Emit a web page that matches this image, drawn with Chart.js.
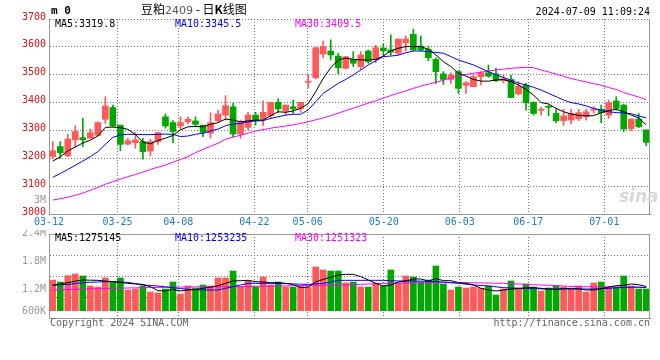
<!DOCTYPE html>
<html>
<head>
<meta charset="utf-8">
<script src="https://cdn.jsdelivr.net/npm/chart.js@4.4.1/dist/chart.umd.min.js"></script>
<style>
  body { margin: 0; background: #fff; }
  #wrap { position: relative; width: 660px; height: 360px; overflow: hidden; font-family: "DejaVu Sans Mono", monospace; font-size: 10px; }
  canvas { position: absolute; left: 0; }
  #main { top: 0; }
  #vol { top: 230px; }
  .t { position: absolute; white-space: pre; line-height: 1; }
</style>
</head>
<body>
<div id="wrap">
  <canvas id="main" width="660" height="230"></canvas>
  <canvas id="vol" width="660" height="100"></canvas>

  <div class="t" style="left:51px;top:5px;font-size:11px;font-weight:bold;">m 0</div>
  <div class="t" style="left:141px;top:3px;font-family:'Noto Sans CJK SC',sans-serif;font-size:12px;">豆粕<span style="font-family:'DejaVu Sans',sans-serif;font-size:11px;color:#555;">2409</span> - 日<b>K</b>线图</div>
  <div class="t" style="right:10px;top:7px;">2024-07-09 11:09:24</div>

  <div class="t" style="left:55px;top:19px;color:#000;">MA5:3319.8</div>
  <div class="t" style="left:175px;top:19px;color:#0000ff;">MA10:3345.5</div>
  <div class="t" style="left:295px;top:19px;color:#ff00ff;">MA30:3409.5</div>

  <div class="t" style="right:614px;top:195px;color:#999;">3M</div>
  <div class="t" style="left:619px;top:188px;font-family:'DejaVu Sans',sans-serif;font-style:italic;font-weight:bold;font-size:17px;color:#d8d8d8;">sina</div>

  <div class="t" style="left:55px;top:233px;color:#000;">MA5:1275145</div>
  <div class="t" style="left:175px;top:233px;color:#0000ff;">MA10:1253235</div>
  <div class="t" style="left:295px;top:233px;color:#ff00ff;">MA30:1251323</div>

  <div class="t" style="left:50px;top:318px;color:#666;">Copyright 2024 SINA.COM</div>
  <div class="t" style="right:10px;top:318px;color:#666;">http://finance.sina.com.cn</div>
</div>

<script>
// trading days shown on the chart
const DATES = [
  "03-12","03-13","03-14","03-15","03-18","03-19","03-20","03-21","03-22","03-25",
  "03-26","03-27","03-28","03-29","04-01","04-02","04-03","04-08","04-09","04-10",
  "04-11","04-12","04-15","04-16","04-17","04-18","04-19","04-22","04-23","04-24",
  "04-25","04-26","04-29","04-30","05-06","05-07","05-08","05-09","05-10","05-13",
  "05-14","05-15","05-16","05-17","05-20","05-21","05-22","05-23","05-24","05-27",
  "05-28","05-29","05-30","05-31","06-03","06-04","06-05","06-06","06-07","06-11",
  "06-12","06-13","06-14","06-17","06-18","06-19","06-20","06-21","06-24","06-25",
  "06-26","06-27","06-28","07-01","07-02","07-03","07-04","07-05","07-08","07-09"
];
const TICK_DATES = ["03-12","03-25","04-08","04-22","05-06","05-20","06-03","06-17","07-01"];

const OPEN = [
  3206,3242,3209,3266,3274,3272,3282,3340,3382,3319, 3251,3256,3260,3226,3260,3349,3328,3316,3331,3334,
  3319,3290,3335,3355,3385,3287,3311,3355,3341,3353, 3401,3370,3385,3379,3473,3489,3574,3585,3567,3523,
  3555,3529,3585,3555,3596,3589,3577,3615,3645,3603, 3591,3555,3503,3483,3511,3462,3457,3493,3507,3503,
  3478,3483,3431,3463,3401,3372,3385,3361,3335,3337, 3342,3349,3373,3376,3355,3406,3391,3306,3341,3302
];
const HIGH = [
  3260,3260,3286,3317,3343,3305,3331,3421,3391,3319, 3272,3292,3272,3268,3293,3359,3335,3349,3349,3349,
  3319,3364,3373,3425,3397,3337,3365,3365,3406,3401, 3413,3391,3409,3401,3501,3597,3621,3625,3577,3565,
  3583,3583,3589,3605,3610,3643,3628,3639,3663,3639, 3603,3561,3511,3507,3515,3475,3499,3511,3535,3523,
  3500,3499,3475,3469,3403,3383,3391,3377,3376,3376, 3376,3376,3385,3391,3409,3421,3394,3341,3361,3302
];
const LOW = [
  3200,3200,3206,3242,3242,3272,3280,3325,3313,3227, 3248,3236,3197,3209,3250,3308,3256,3304,3323,3313,
  3278,3272,3331,3337,3278,3272,3302,3319,3317,3343, 3365,3355,3361,3365,3453,3485,3561,3553,3503,3520,
  3529,3519,3541,3543,3570,3570,3571,3585,3585,3585, 3550,3469,3465,3469,3433,3433,3457,3463,3491,3475,
  3470,3418,3427,3373,3355,3355,3353,3328,3319,3323, 3335,3337,3361,3328,3343,3373,3296,3299,3310,3245
];
const CLOSE = [
  3227,3220,3269,3296,3266,3292,3328,3388,3316,3250, 3263,3266,3224,3260,3292,3316,3296,3328,3340,3322,
  3293,3328,3359,3389,3287,3331,3355,3337,3365,3401, 3377,3391,3377,3401,3476,3597,3601,3571,3525,3565,
  3541,3571,3547,3597,3586,3581,3628,3628,3589,3589, 3561,3511,3483,3499,3451,3471,3493,3507,3495,3479,
  3486,3418,3459,3400,3361,3376,3383,3335,3352,3361, 3364,3367,3377,3364,3400,3379,3305,3341,3313,3257
];
const MA5 = [
  3190,3205,3227,3240,3255,3265,3280,3311,3312,3310, 3304,3285,3258,3252,3264,3272,3282,3302,3313,3314,
  3313,3322,3328,3341,3337,3331,3334,3337,3337,3353, 3367,3365,3370,3379,3396,3439,3487,3525,3553,3560,
  3555,3553,3553,3555,3567,3586,3595,3601,3601,3601, 3591,3571,3547,3529,3505,3495,3483,3477,3477,3481,
  3483,3475,3463,3447,3427,3400,3395,3379,3367,3359, 3354,3352,3353,3364,3371,3376,3367,3355,3345,3320
];
const MA10 = [
  3132,3145,3160,3175,3190,3206,3224,3250,3275,3284, 3286,3286,3285,3285,3286,3287,3286,3278,3280,3286,
  3290,3298,3305,3317,3323,3325,3331,3334,3335,3343, 3349,3355,3358,3358,3373,3403,3433,3451,3469,3483,
  3499,3517,3535,3550,3565,3567,3570,3579,3585,3585, 3583,3580,3577,3565,3553,3544,3535,3523,3511,3500,
  3490,3480,3470,3463,3455,3445,3433,3421,3409,3400, 3395,3388,3379,3373,3367,3364,3363,3360,3352,3345
];
const MA30 = [
  3050,3055,3060,3067,3075,3085,3095,3107,3116,3125, 3134,3142,3150,3160,3168,3176,3186,3196,3206,3220,
  3232,3243,3254,3268,3276,3283,3290,3298,3303,3308, 3312,3316,3320,3325,3331,3338,3345,3353,3362,3371,
  3380,3389,3398,3407,3416,3425,3434,3442,3451,3459, 3466,3473,3480,3489,3497,3501,3505,3509,3513,3517,
  3520,3523,3525,3527,3525,3517,3510,3502,3495,3486, 3480,3474,3468,3462,3454,3447,3436,3428,3420,3410
];

// volume, in thousands of lots
const VOLUME = [
  1414,1371,1506,1543,1500,1286,1264,1457,1371,1457, 1200,1221,1286,1157,1136,1221,1371,1114,1286,1243,
  1307,1286,1457,1457,1607,1264,1393,1264,1479,1307, 1371,1264,1264,1286,1264,1693,1629,1607,1607,1350,
  1371,1264,1264,1350,1286,1629,1350,1500,1479,1371, 1414,1714,1329,1200,1264,1243,1264,1236,1286,1093,
  1221,1393,1243,1329,1264,1179,1243,1286,1264,1221, 1286,1157,1350,1371,1264,1264,1500,1286,1221,1221
];
const VMA5 = [
  1293,1330,1357,1390,1414,1410,1407,1390,1379,1360, 1343,1330,1320,1270,1186,1179,1214,1180,1200,1210,
  1236,1260,1290,1343,1393,1400,1407,1379,1371,1357, 1357,1343,1320,1250,1264,1371,1429,1471,1521,1536,
  1536,1486,1414,1343,1286,1307,1371,1393,1436,1436, 1393,1443,1400,1400,1357,1343,1307,1236,1200,1179,
  1200,1221,1229,1250,1250,1236,1221,1214,1229,1236, 1229,1200,1200,1229,1264,1293,1300,1329,1314,1275
];
const VMA10 = [
  1307,1313,1320,1340,1357,1365,1372,1377,1379,1372, 1364,1336,1307,1296,1286,1268,1250,1232,1214,1207,
  1200,1200,1200,1236,1271,1307,1343,1343,1343,1343, 1343,1336,1329,1325,1320,1332,1343,1371,1407,1407,
  1407,1407,1407,1407,1407,1400,1393,1393,1393,1390, 1386,1379,1371,1357,1343,1325,1307,1296,1286,1268,
  1250,1243,1236,1232,1229,1225,1221,1221,1221,1221, 1221,1221,1221,1229,1236,1246,1257,1260,1264,1253
];
const VMA30 = [
  1200,1205,1210,1214,1218,1225,1229,1232,1236,1240, 1243,1246,1249,1252,1255,1257,1259,1262,1265,1268,
  1271,1271,1271,1271,1271,1271,1275,1279,1282,1286, 1286,1289,1292,1295,1298,1300,1303,1307,1307,1312,
  1317,1322,1328,1333,1338,1343,1346,1349,1352,1355, 1357,1357,1357,1357,1357,1357,1354,1351,1349,1346,
  1343,1336,1329,1321,1314,1307,1300,1293,1286,1279, 1271,1270,1268,1267,1265,1264,1261,1258,1254,1251
];
const VOL_TICKS = [600, 1200, 1800, 2400];
const VOL_FLOOR = 756; // sina starts the volume bars a little above the axis bottom

const UP = "#ff5959";
const DOWN = "#00a800";
const GRID = "#777777";
const EDGE = "#999999";
const MONO = { family: "DejaVu Sans Mono", size: 10 };

const tickIdx = TICK_DATES.map((d) => DATES.indexOf(d));
const barColors = CLOSE.map((c, i) => (c >= OPEN[i] ? UP : DOWN));

// right edge (and optional solid top edge) of the plot frame
const framePlugin = {
  id: "frame",
  afterDraw(chart, args, opts) {
    const { ctx, chartArea: a } = chart;
    ctx.save();
    ctx.strokeStyle = EDGE;
    ctx.lineWidth = 1;
    ctx.beginPath();
    ctx.moveTo(a.right - 0.5, a.top);
    ctx.lineTo(a.right - 0.5, a.bottom);
    if (opts.solidTop) {
      ctx.moveTo(a.left, a.top + 0.5);
      ctx.lineTo(a.right, a.top + 0.5);
    }
    ctx.stroke();
    ctx.restore();
  },
};

// volume axis labels, the bottom one is lifted inside the frame like sina does
const volLabelPlugin = {
  id: "volLabels",
  afterDraw(chart) {
    const { ctx, chartArea: a, scales } = chart;
    ctx.save();
    ctx.fillStyle = "#999";
    ctx.font = "10px 'DejaVu Sans Mono'";
    ctx.textAlign = "right";
    ctx.textBaseline = "middle";
    VOL_TICKS.forEach((v) => {
      const y = Math.min(scales.y.getPixelForValue(v) - 1, a.bottom - 7);
      const txt = v >= 1000 ? (v / 1000).toFixed(1) + "M" : v + "K";
      ctx.fillText(txt, a.left - 3, y);
    });
    ctx.restore();
  },
};

function dateAxis(showLabels) {
  return {
    type: "linear",
    position: "bottom",
    min: 0,
    max: DATES.length - 1,
    afterBuildTicks: (axis) => {
      axis.ticks = tickIdx.map((v) => ({ value: v }));
    },
    ticks: {
      display: showLabels,
      autoSkip: false,
      maxRotation: 0,
      color: "#1a80c8",
      font: MONO,
      padding: 2,
      callback: (v) => DATES[v],
    },
    grid: { color: GRID, drawTicks: false },
    border: { display: true, color: EDGE, dash: [1, 2] },
    afterFit: (s) => {
      s.height = showLabels ? 16 : 0;
    },
  };
}

function maLine(data, color) {
  return {
    type: "line",
    data: data,
    borderColor: color,
    borderWidth: 1,
    pointRadius: 0,
    tension: 0,
    order: 0,
    xAxisID: "x",
    yAxisID: "y",
  };
}

const common = {
  responsive: false,
  animation: false,
  devicePixelRatio: 1,
  events: [],
};

new Chart(document.getElementById("main"), {
  data: {
    labels: DATES,
    datasets: [
      maLine(MA5, "#000000"),
      maLine(MA10, "#0000ff"),
      maLine(MA30, "#ff00ff"),
      {
        type: "bar",
        data: OPEN.map((o, i) => [o, CLOSE[i]]),
        backgroundColor: barColors,
        barThickness: 6,
        minBarLength: 1,
        grouped: false,
        order: 1,
        xAxisID: "x",
        yAxisID: "y",
      },
      {
        type: "bar",
        data: LOW.map((l, i) => [l, HIGH[i]]),
        backgroundColor: barColors,
        barThickness: 1,
        grouped: false,
        order: 2,
        xAxisID: "x",
        yAxisID: "y",
      },
    ],
  },
  options: {
    ...common,
    layout: { padding: { left: 0, right: 10, top: 19, bottom: 0 } },
    plugins: { legend: { display: false }, tooltip: { enabled: false }, frame: { solidTop: false } },
    scales: {
      x: { type: "category", offset: true, display: false },
      xt: dateAxis(true),
      y: {
        min: 3000,
        max: 3700,
        ticks: {
          stepSize: 100,
          color: "#e01010",
          font: MONO,
          padding: 3,
          labelOffset: -2,
          callback: (v) => String(v),
        },
        grid: { color: GRID, drawTicks: false },
        border: { color: EDGE, dash: [1, 2] },
        afterFit: (s) => {
          s.width = 49;
        },
      },
    },
  },
  plugins: [framePlugin],
});

new Chart(document.getElementById("vol"), {
  data: {
    labels: DATES,
    datasets: [
      maLine(VMA5, "#000000"),
      maLine(VMA10, "#0000ff"),
      maLine(VMA30, "#ff00ff"),
      {
        type: "bar",
        data: VOLUME.map((v) => [VOL_FLOOR, v]),
        backgroundColor: barColors,
        barThickness: 6,
        grouped: false,
        order: 1,
        xAxisID: "x",
        yAxisID: "y",
      },
    ],
  },
  options: {
    ...common,
    layout: { padding: { left: 0, right: 10, top: 4, bottom: 12 } },
    plugins: { legend: { display: false }, tooltip: { enabled: false }, frame: { solidTop: true } },
    scales: {
      x: { type: "category", offset: true, display: false },
      xt: dateAxis(false),
      y: {
        min: 600,
        max: 2400,
        ticks: { display: false, stepSize: 450 },
        grid: { color: GRID, drawTicks: false },
        border: { color: EDGE, dash: [1, 2] },
        afterFit: (s) => {
          s.width = 49;
        },
      },
    },
  },
  plugins: [framePlugin, volLabelPlugin],
});
</script>
</body>
</html>
